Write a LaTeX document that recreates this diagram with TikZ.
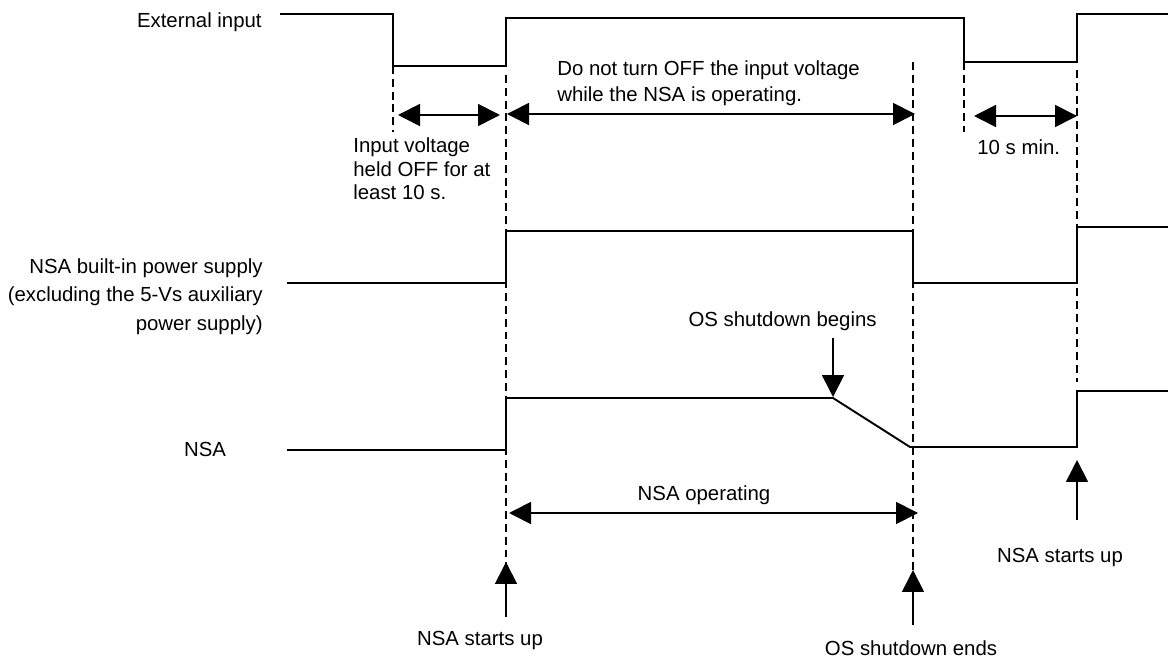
\documentclass[tikz,border=0pt]{standalone}
\usepackage{fontspec}
\setmainfont{Liberation Sans}
\usetikzlibrary{arrows.meta}

\tikzset{
    wave/.style={line width=1.1pt},
    guide/.style={line width=0.8pt, dash pattern=on 4.5pt off 2.8pt},
    pointer/.style={-{Triangle[length=0.44cm,width=0.44cm]}, line width=1pt},
    spanarrow/.style={{Triangle[length=0.44cm,width=0.44cm]}-{Triangle[length=0.44cm,width=0.44cm]}, line width=1pt},
    lbl/.style={inner sep=0pt, font=\fontsize{11.6}{13.6}\selectfont}
}

\begin{document}
\begin{tikzpicture}[x=0.02cm, y=-0.02cm]
    \useasboundingbox (0,0) rectangle (1168,661);

    % waveforms
    \draw[wave] (280,14) -- (393,14) -- (393,66) -- (506,66) -- (506,18) -- (964,18) -- (964,62) -- (1077,62) -- (1077,14) -- (1168,14);
    \draw[wave] (287,283) -- (506,283) -- (506,231) -- (913,231) -- (913,283) -- (1077,283) -- (1077,227) -- (1168,227);
    \draw[wave] (287,450) -- (506,450) -- (506,398) -- (833,398) -- (910,447) -- (1077,447) -- (1077,391) -- (1168,391);

    % dashed timing marks
    \draw[guide] (393,66) -- (393,132);
    \draw[guide] (506,75) -- (506,565);
    \draw[guide] (913,62) -- (913,600);
    \draw[guide] (964,62) -- (964,132);
    \draw[guide] (1077,70) -- (1077,382);

    % signal names
    \node[lbl, anchor=base east] (ext) at (262,28) {External input};
    \node[lbl, anchor=north east, align=right, font=\fontsize{11.6}{16.4}\selectfont] (psu) at (263,258) {NSA built-in power supply\\(excluding the 5-Vs auxiliary\\power supply)};
    \node[lbl, anchor=base] (nsa) at (205,457) {NSA};

    % notes
    \node[lbl, anchor=north west, align=left] (inputoff) at (353,137) {Input voltage\\held OFF for at\\least 10 s.};
    \node[lbl, anchor=north west, align=left, font=\fontsize{11.6}{14.8}\selectfont] (donot) at (557,60) {Do not turn OFF the input voltage\\while the NSA is operating.};
    \node[lbl, anchor=base west] (tenmin) at (977,155) {10 s min.};
    \node[lbl, anchor=base east] (osbegin) at (877,327) {OS shutdown begins};
    \node[lbl, anchor=base] (nsaop) at (704,500) {NSA operating};
    \node[lbl, anchor=base] (startup) at (480,645) {NSA starts up};
    \node[lbl, anchor=base] (osend) at (911,655) {OS shutdown ends};
    \node[lbl, anchor=base] (startup2) at (1060,562) {NSA starts up};

    % spans
    \coordinate (offL) at (398,115);
    \coordinate (offR) at (500,115);
    \coordinate (onL) at (507,114);
    \coordinate (onR) at (915,114);
    \coordinate (minL) at (974,116);
    \coordinate (minR) at (1077,116);
    \coordinate (opL) at (509,513);
    \coordinate (opR) at (918,513);
    \draw[spanarrow] (offL) -- (offR);
    \draw[spanarrow] (onL) -- (onR);
    \draw[spanarrow] (minL) -- (minR);
    \draw[spanarrow] (opL) -- (opR);

    % event pointers
    \coordinate (beginA) at (833,338);
    \coordinate (beginB) at (833,397);
    \coordinate (upA) at (506,617);
    \coordinate (upB) at (506,562);
    \coordinate (endA) at (913,625);
    \coordinate (endB) at (913,570);
    \coordinate (up2A) at (1077,520);
    \coordinate (up2B) at (1077,460);
    \draw[pointer] (beginA) -- (beginB);
    \draw[pointer] (upA) -- (upB);
    \draw[pointer] (endA) -- (endB);
    \draw[pointer] (up2A) -- (up2B);
\end{tikzpicture}
\end{document}
